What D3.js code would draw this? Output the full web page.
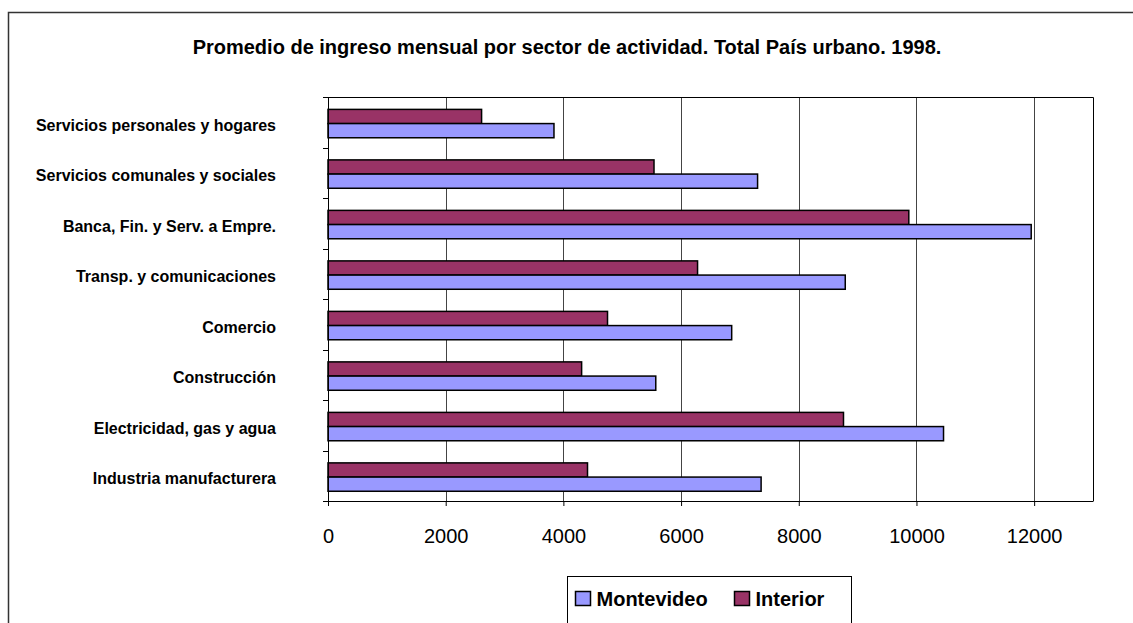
<!DOCTYPE html>
<html>
<head>
<meta charset="utf-8">
<script src="https://cdn.jsdelivr.net/npm/d3@7"></script>
<style>
	body { margin: 0; background: #fff; }
	svg { font-family: Arial, 'Liberation Sans', sans-serif; display: block; }
</style>
</head>
<body>
<div id="chart"></div>
<script>
// Data (top to bottom)
const categories = [
	'Servicios personales y hogares',
	'Servicios comunales y sociales',
	'Banca, Fin. y Serv. a Empre.',
	'Transp. y comunicaciones',
	'Comercio',
	'Construcción',
	'Electricidad, gas y agua',
	'Industria manufacturera'
];
const montevideo = [3840, 7300, 11950, 8790, 6860, 5570, 10460, 7360];
const interior = [2610, 5540, 9870, 6280, 4750, 4310, 8760, 4410];
const seriesNames = ['Interior', 'Montevideo'];
const xTicks = [0, 2000, 4000, 6000, 8000, 10000, 12000];
const TITLE = 'Promedio de ingreso mensual por sector de actividad. Total País urbano. 1998.';

// Layout
const OUTER_WIDTH = 1133;
const OUTER_HEIGHT = 623;
const MARGIN = {top: 97, right: 40, bottom: 122, left: 328};
const X_MAX = 13000;
const COLORS = {Montevideo: '#9999ff', Interior: '#993366'};

const width = OUTER_WIDTH - MARGIN.left - MARGIN.right;
const height = OUTER_HEIGHT - MARGIN.top - MARGIN.bottom;

const root = d3.select('#chart').append('svg')
	.attr('width', OUTER_WIDTH)
	.attr('height', OUTER_HEIGHT);

// Outer chart border (runs off the right and bottom edges)
root.append('rect')
	.attr('x', 8.5)
	.attr('y', 12.5)
	.attr('width', OUTER_WIDTH + 20)
	.attr('height', OUTER_HEIGHT + 20)
	.attr('fill', 'none')
	.attr('stroke', '#333')
	.attr('stroke-width', 1.5);

// Title
root.append('text')
	.attr('x', 567)
	.attr('y', 54)
	.attr('text-anchor', 'middle')
	.attr('font-size', 20)
	.attr('font-weight', 'bold')
	.text(TITLE);

const svg = root.append('g')
	.attr('transform', `translate(${MARGIN.left}, ${MARGIN.top})`);

// Scales
const xScale = d3.scaleLinear().domain([0, X_MAX]).range([0, width]);
const yScale = d3.scaleBand().domain(categories).range([0, height]).padding(0);
const subScale = d3.scaleBand().domain(seriesNames)
	.range([0, yScale.bandwidth()])
	.paddingInner(0)
	.paddingOuter(0.78)
	.align(0.56);

// Gridlines
svg.append('g')
	.selectAll('line')
	.data(xTicks.filter(d => d > 0))
	.enter()
	.append('line')
	.attr('x1', d => Math.round(xScale(d)) + 0.5)
	.attr('x2', d => Math.round(xScale(d)) + 0.5)
	.attr('y1', 0)
	.attr('y2', height)
	.attr('stroke', '#444')
	.attr('stroke-width', 1);

// Plot frame top / right
svg.append('path')
	.attr('d', `M0,0.5H${width + 0.5}V${height}`)
	.attr('fill', 'none')
	.attr('stroke', '#000');

// Bars
const rows = categories.map((c, i) => ({category: c, Montevideo: montevideo[i], Interior: interior[i]}));

svg.append('g')
	.selectAll('g')
	.data(rows)
	.enter()
	.append('g')
	.attr('transform', d => `translate(0, ${yScale(d.category)})`)
	.selectAll('rect')
	.data(d => seriesNames.map(s => ({series: s, value: d[s]})))
	.enter()
	.append('rect')
	.attr('x', 0)
	.attr('y', d => subScale(d.series))
	.attr('width', d => xScale(d.value))
	.attr('height', subScale.bandwidth())
	.attr('fill', d => COLORS[d.series])
	.attr('stroke', '#000')
	.attr('stroke-width', 1.5);

// X axis
const xAxis = svg.append('g')
	.attr('transform', `translate(0, ${height})`)
	.call(d3.axisBottom(xScale)
		.tickValues(xTicks)
		.tickFormat(d3.format('d'))
		.tickSize(5)
		.tickSizeOuter(0)
		.tickPadding(23));
xAxis.select('.domain').attr('stroke', '#000');
xAxis.selectAll('text').attr('font-size', 20).attr('fill', '#000').attr('font-family', null);

// Y axis line + boundary ticks
svg.append('line')
	.attr('x1', 0.5).attr('x2', 0.5)
	.attr('y1', 0).attr('y2', height + 5)
	.attr('stroke', '#000');

svg.append('g')
	.selectAll('line')
	.data(d3.range(categories.length + 1))
	.enter()
	.append('line')
	.attr('x1', -5)
	.attr('x2', 0)
	.attr('y1', i => Math.round(i * yScale.step()) + 0.5)
	.attr('y2', i => Math.round(i * yScale.step()) + 0.5)
	.attr('stroke', '#000');

// Category labels
svg.append('g')
	.selectAll('text')
	.data(categories)
	.enter()
	.append('text')
	.attr('x', -52)
	.attr('y', d => yScale(d) + yScale.bandwidth() / 2 + 3)
	.attr('dy', '0.35em')
	.attr('text-anchor', 'end')
	.attr('font-size', 16)
	.attr('font-weight', 'bold')
	.text(d => d);

// Legend
const legend = root.append('g').attr('transform', 'translate(567.5, 576.5)');
legend.append('rect')
	.attr('width', 284)
	.attr('height', 60)
	.attr('fill', '#fff')
	.attr('stroke', '#000');

const legendItems = legend.selectAll('g.item')
	.data(['Montevideo', 'Interior'])
	.enter()
	.append('g')
	.attr('class', 'item')
	.attr('transform', (d, i) => `translate(${8 + i * 159}, 0)`);

legendItems.append('rect')
	.attr('x', 0)
	.attr('y', 15)
	.attr('width', 15)
	.attr('height', 14)
	.attr('fill', d => COLORS[d])
	.attr('stroke', '#000')
	.attr('stroke-width', 1.5);

legendItems.append('text')
	.attr('x', 21)
	.attr('y', 22)
	.attr('dy', '0.35em')
	.attr('font-size', 20)
	.attr('font-weight', 'bold')
	.text(d => d);
</script>
</body>
</html>
